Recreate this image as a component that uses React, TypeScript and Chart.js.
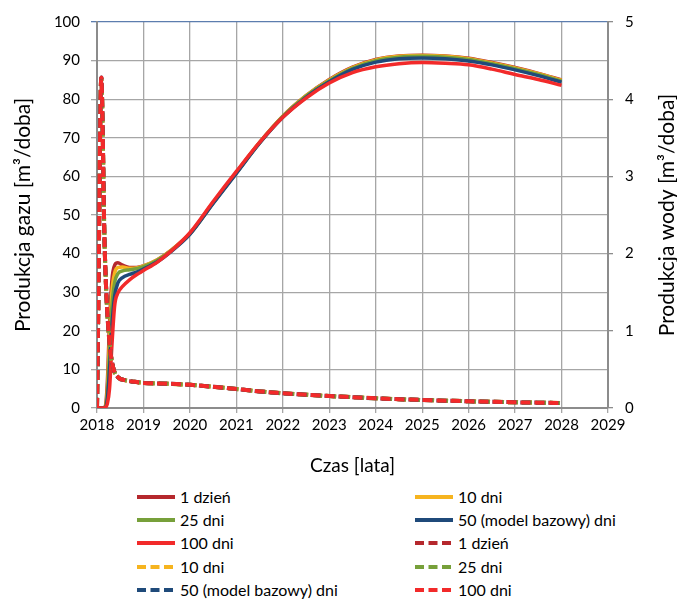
import React, { useEffect, useRef } from "react";
import { Chart, registerables } from "chart.js";

Chart.register(...registerables);

const FONT = "Lato, 'Open Sans', sans-serif";

// ---- Data ----
const gasYears = [2018, 2018.1, 2018.17, 2018.22, 2018.27, 2018.32, 2018.38, 2018.45, 2018.55, 2018.7, 2018.85, 2019, 2019.3, 2019.6, 2020, 2020.5, 2021, 2021.5, 2022, 2022.5, 2023, 2023.5, 2024, 2024.5, 2025, 2025.5, 2026, 2026.5, 2027, 2027.5, 2028];
const gas1 = [0, 0, 0.3, 6, 22, 33, 37, 37.6, 37.0, 36.4, 36.4, 36.8, 38.4, 40.9, 45.2, 53.2, 61.0, 68.8, 75.6, 80.9, 85.1, 88.3, 90.3, 91.2, 91.4, 91.2, 90.6, 89.5, 88.2, 86.7, 85.0];
const gas10 = [0, 0, 0.2, 4, 18, 30, 35, 36.4, 36.5, 36.2, 36.3, 36.8, 38.4, 40.9, 45.2, 53.2, 61.0, 68.8, 75.6, 80.9, 85.0, 88.2, 90.2, 91.1, 91.3, 91.1, 90.5, 89.4, 88.1, 86.6, 84.9];
const gas25 = [0, 0, 0.1, 3, 14, 26, 32.5, 34.8, 35.5, 35.8, 36.1, 36.6, 38.3, 40.8, 45.1, 53.1, 60.9, 68.7, 75.5, 80.8, 84.8, 88.0, 90.0, 90.9, 91.1, 90.9, 90.3, 89.2, 87.9, 86.4, 84.7];
const gas50 = [0, 0, 0.1, 2, 10, 21, 29, 32.4, 33.8, 34.6, 35.2, 36.0, 37.9, 40.6, 45.0, 53.0, 60.8, 68.6, 75.3, 80.5, 84.5, 87.7, 89.6, 90.5, 90.7, 90.5, 89.9, 88.9, 87.6, 86.1, 84.4];
const gas100 = [0, 0, 0.1, 1, 5, 16, 26.5, 29.8, 31.5, 33.2, 34.5, 35.6, 37.8, 40.7, 45.4, 53.5, 61.3, 68.8, 75.3, 80.3, 84.2, 86.9, 88.4, 89.2, 89.5, 89.3, 88.9, 87.8, 86.4, 85.1, 83.6];

const waterYears = [2018, 2018.02, 2018.04, 2018.06, 2018.08, 2018.095, 2018.11, 2018.133, 2018.155, 2018.2, 2018.27, 2018.35, 2018.45, 2018.6, 2018.8, 2019, 2019.5, 2020, 2020.5, 2021, 2021.5, 2022, 2022.5, 2023, 2023.5, 2024, 2024.5, 2025, 2025.5, 2026, 2026.5, 2027, 2027.5, 2028];
const water1 = [0, 0.9, 2.0, 3.2, 4.1, 4.27, 4.0, 3.2, 2.35, 1.5, 0.84, 0.52, 0.40, 0.36, 0.34, 0.326, 0.316, 0.30, 0.276, 0.246, 0.216, 0.191, 0.172, 0.155, 0.14, 0.126, 0.114, 0.104, 0.095, 0.087, 0.08, 0.074, 0.069, 0.065];
const water10 = [0, 0.9, 2.0, 3.2, 4.1, 4.27, 4.0, 3.2, 2.35, 1.5, 0.84, 0.52, 0.40, 0.36, 0.34, 0.326, 0.315, 0.30, 0.275, 0.246, 0.216, 0.191, 0.172, 0.155, 0.14, 0.126, 0.114, 0.104, 0.095, 0.087, 0.08, 0.074, 0.069, 0.065];
const water25 = [0, 0.9, 2.0, 3.2, 4.1, 4.27, 4.0, 3.2, 2.35, 1.5, 0.84, 0.52, 0.40, 0.36, 0.34, 0.325, 0.315, 0.30, 0.275, 0.245, 0.215, 0.19, 0.172, 0.155, 0.14, 0.126, 0.114, 0.104, 0.095, 0.087, 0.08, 0.074, 0.069, 0.065];
const water50 = [0, 0.9, 2.0, 3.2, 4.1, 4.28, 4.0, 3.2, 2.35, 1.5, 0.84, 0.52, 0.40, 0.36, 0.34, 0.325, 0.315, 0.30, 0.275, 0.245, 0.215, 0.19, 0.172, 0.155, 0.14, 0.125, 0.114, 0.104, 0.095, 0.087, 0.08, 0.074, 0.069, 0.065];
const water100 = [0, 0.9, 2.0, 3.2, 4.1, 4.28, 4.0, 3.2, 2.35, 1.5, 0.84, 0.52, 0.40, 0.36, 0.34, 0.325, 0.315, 0.30, 0.275, 0.245, 0.215, 0.19, 0.172, 0.155, 0.14, 0.126, 0.114, 0.104, 0.095, 0.087, 0.08, 0.074, 0.069, 0.065];

const seriesNames = ["1 dzień", "10 dni", "25 dni", "50 (model bazowy) dni", "100 dni"];
const seriesColors = ["#B5282D", "#F6B41F", "#77A03A", "#1F4A7A", "#F22A2A"];
const gasSeries = [gas1, gas10, gas25, gas50, gas100];
const waterSeries = [water1, water10, water25, water50, water100];

const xMin = 2018;
const xMax = 2029;
const leftMax = 100;
const rightMax = 5;

const xAxisTitle = "Czas [lata]";
const leftAxisTitle = "Produkcja gazu [m³/doba]";
const rightAxisTitle = "Produkcja wody [m³/doba]";

const DASH = [10, 4];

function toPoints(xs: number[], ys: number[]) {
  return xs.map((x, i) => ({ x, y: ys[i] }));
}

const titlePlugin = {
  id: "axisTitles",
  afterDraw(chart: any) {
    const { ctx, chartArea } = chart;
    ctx.save();
    ctx.fillStyle = "#000";
    ctx.textAlign = "center";
    ctx.textBaseline = "middle";
    const midY = (chartArea.top + chartArea.bottom) / 2;
    ctx.font = `19px ${FONT}`;
    ctx.fillText(xAxisTitle, (chartArea.left + chartArea.right) / 2, chartArea.bottom + 58);
    ctx.font = `21px ${FONT}`;
    ctx.save();
    ctx.translate(23, midY);
    ctx.rotate(-Math.PI / 2);
    ctx.fillText(leftAxisTitle, 0, 0);
    ctx.restore();
    ctx.save();
    ctx.translate(chart.width - 10, midY);
    ctx.rotate(-Math.PI / 2);
    ctx.fillText(rightAxisTitle, 0, 0);
    ctx.restore();
    ctx.restore();
  },
};

export default function App() {
  const ref = useRef<HTMLCanvasElement | null>(null);

  useEffect(() => {
    if (!ref.current) return;
    const datasets: any[] = [];
    gasSeries.forEach((ys, i) => {
      datasets.push({
        label: seriesNames[i],
        data: toPoints(gasYears, ys),
        yAxisID: "y",
        borderColor: seriesColors[i],
        backgroundColor: seriesColors[i],
        borderWidth: 3.5,
        pointRadius: 0,
        fill: false,
        cubicInterpolationMode: "monotone",
        order: 20 - datasets.length,
      });
    });
    waterSeries.forEach((ys, i) => {
      datasets.push({
        label: seriesNames[i],
        data: toPoints(waterYears, ys),
        yAxisID: "y1",
        borderColor: seriesColors[i],
        backgroundColor: seriesColors[i],
        borderWidth: 4,
        borderDash: DASH,
        pointRadius: 0,
        fill: false,
        cubicInterpolationMode: "monotone",
        order: 20 - datasets.length,
      });
    });

    const tickFont = { family: FONT, size: 15 };
    const chart = new Chart(ref.current, {
      type: "line",
      data: { datasets },
      plugins: [titlePlugin],
      options: {
        animation: false,
        responsive: false,
        events: [],
        layout: { padding: { top: 22, left: 0, right: 0, bottom: 0 } },
        plugins: { legend: { display: false }, tooltip: { enabled: false } },
        scales: {
          x: {
            type: "linear",
            min: xMin,
            max: xMax,
            ticks: {
              stepSize: 1,
              color: "#000",
              font: tickFont,
              padding: 3,
              maxRotation: 0,
              callback: (v: any) => String(v),
            },
            grid: { color: "#A6A6A6", lineWidth: 1.3, tickLength: 5 },
            border: { color: "#8C8C8C", width: 2 },
            afterFit: (s: any) => {
              s.height = 72;
            },
          },
          y: {
            position: "left",
            min: 0,
            max: leftMax,
            ticks: { stepSize: 10, color: "#000", font: tickFont, padding: 11 },
            grid: {
              color: (c: any) => (c.tick && c.tick.value === leftMax ? "#5C7DAE" : "#A6A6A6"),
              lineWidth: 1.3,
              tickLength: 6,
            },
            border: { color: "#8C8C8C", width: 2 },
            afterFit: (s: any) => {
              s.width = 97;
            },
          },
          y1: {
            position: "right",
            min: 0,
            max: rightMax,
            ticks: { stepSize: 1, color: "#000", font: tickFont, padding: 12 },
            grid: { drawOnChartArea: false, color: "#8C8C8C", lineWidth: 1.3, tickLength: 5 },
            border: { color: "#8C8C8C", width: 2 },
            afterFit: (s: any) => {
              s.width = 69;
            },
          },
        },
      } as any,
    });
    return () => chart.destroy();
  }, []);

  const legendItems = [
    ...seriesNames.map((n, i) => ({ name: n, color: seriesColors[i], dashed: false })),
    ...seriesNames.map((n, i) => ({ name: n, color: seriesColors[i], dashed: true })),
  ];

  return (
    <div
      style={{
        position: "fixed",
        left: 0,
        top: 0,
        width: 677,
        height: 599,
        background: "#fff",
        fontFamily: FONT,
        overflow: "hidden",
      }}
    >
      <canvas
        ref={ref}
        width={677}
        height={480}
        style={{ position: "absolute", left: 0, top: 0, width: 677, height: 480 }}
      />
      {legendItems.map((it, k) => {
        const col = k % 2;
        const row = Math.floor(k / 2);
        const cy = 497 + row * 23.2;
        const left = col === 0 ? 137 : 415;
        return (
          <div
            key={k}
            style={{
              position: "absolute",
              left,
              top: cy - 10,
              height: 20,
              display: "flex",
              alignItems: "center",
              whiteSpace: "nowrap",
              fontSize: 16,
              color: "#000",
            }}
          >
            <svg width={38} height={6} style={{ display: "block" }}>
              <line
                x1={0}
                y1={3}
                x2={38}
                y2={3}
                stroke={it.color}
                strokeWidth={4}
                strokeDasharray={it.dashed ? "9 4.5" : undefined}
              />
            </svg>
            <span style={{ marginLeft: 5, lineHeight: "20px" }}>{it.name}</span>
          </div>
        );
      })}
    </div>
  );
}
